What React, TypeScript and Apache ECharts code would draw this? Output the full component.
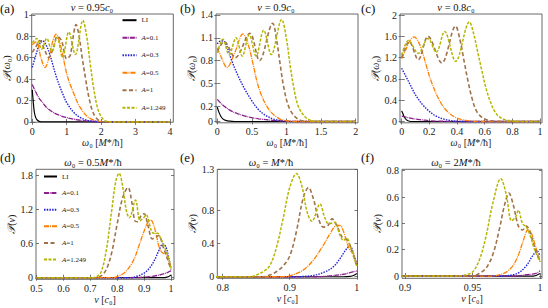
import React, { useEffect, useRef } from 'react';
import * as echarts from 'echarts';

const SERIF = "'Liberation Serif', 'DejaVu Serif', serif";

const NAMES = ['LI', 'A=0.1', 'A=0.3', 'A=0.5', 'A=1', 'A=1.249'];

// (a) v = 0.95 c0 ; x = omega0
const aLI = [[0,0.3],[0.03,0.18],[0.06,0.09],[0.1,0.04],[0.15,0.015],[0.2,0.005],[0.3,0],[4,0]];
const aA01 = [[0,0.35],[0.1,0.28],[0.2,0.22],[0.3,0.18],[0.4,0.14],[0.6,0.09],[0.8,0.06],[1,0.04],[1.3,0.02],[1.6,0.008],[2,0.002],[2.5,0],[4,0]];
const aA03 = [[0,0.51],[0.1,0.62],[0.2,0.72],[0.3,0.76],[0.4,0.72],[0.5,0.64],[0.6,0.53],[0.7,0.42],[0.8,0.33],[0.9,0.25],[1,0.18],[1.2,0.09],[1.4,0.04],[1.6,0.015],[1.8,0.005],[2,0],[4,0]];
const aA05 = [[0,0.72],[0.12,0.75],[0.25,0.6],[0.37,0.51],[0.5,0.62],[0.6,0.76],[0.69,0.82],[0.8,0.74],[0.9,0.6],[1,0.45],[1.1,0.35],[1.2,0.27],[1.3,0.19],[1.4,0.13],[1.6,0.05],[1.8,0.015],[2,0.004],[2.2,0],[4,0]];
const aA1 = [[0,0.65],[0.1,0.7],[0.22,0.76],[0.35,0.68],[0.48,0.6],[0.6,0.68],[0.73,0.8],[0.85,0.76],[1,0.59],[1.1,0.62],[1.18,0.78],[1.27,0.91],[1.35,0.82],[1.45,0.6],[1.55,0.4],[1.65,0.22],[1.75,0.1],[1.85,0.04],[1.95,0.01],[2.1,0],[4,0]];
const aA1249 = [[0,0.74],[0.13,0.78],[0.27,0.68],[0.42,0.78],[0.57,0.66],[0.72,0.79],[0.88,0.6],[1.06,0.84],[1.25,0.63],[1.47,0.95],[1.58,0.8],[1.68,0.55],[1.78,0.32],[1.88,0.15],[1.98,0.06],[2.1,0.015],[2.25,0],[4,0]];

// (b) v = 0.9 c0
const bLI = [[0,0.19],[0.02,0.13],[0.05,0.07],[0.08,0.035],[0.12,0.015],[0.18,0.004],[0.25,0],[2,0]];
const bA01 = [[0,0.29],[0.05,0.24],[0.1,0.2],[0.2,0.14],[0.3,0.1],[0.45,0.06],[0.6,0.035],[0.8,0.015],[1,0.005],[1.2,0],[2,0]];
const bA03 = [[0,1.02],[0.05,1.06],[0.1,1.05],[0.15,0.96],[0.2,0.82],[0.3,0.6],[0.4,0.42],[0.5,0.27],[0.6,0.15],[0.7,0.08],[0.8,0.035],[0.9,0.015],[1,0.005],[1.1,0],[2,0]];
const bA05 = [[0,0.97],[0.05,0.86],[0.14,0.71],[0.25,0.9],[0.37,1.15],[0.45,1.0],[0.52,0.74],[0.59,0.47],[0.69,0.24],[0.79,0.11],[0.9,0.035],[1,0.01],[1.1,0],[2,0]];
const bA1 = [[0,0.92],[0.1,1.05],[0.26,0.84],[0.47,1.16],[0.61,0.8],[0.8,1.29],[0.86,1.05],[0.91,0.74],[0.96,0.45],[1.03,0.2],[1.12,0.065],[1.22,0.01],[1.3,0],[2,0]];
const bA1249 = [[0,0.9],[0.08,1.08],[0.17,0.88],[0.27,1.1],[0.36,0.86],[0.46,1.14],[0.56,0.86],[0.67,1.2],[0.78,0.88],[0.93,1.34],[1,1.08],[1.05,0.75],[1.1,0.47],[1.17,0.2],[1.27,0.06],[1.36,0.01],[1.45,0],[2,0]];

// (c) v = 0.8 c0
const cLI = [[0,0.2],[0.01,0.14],[0.02,0.08],[0.035,0.03],[0.05,0.01],[0.08,0],[1,0]];
const cA01 = [[0,0.1],[0.05,0.07],[0.1,0.045],[0.15,0.03],[0.2,0.015],[0.3,0.005],[0.4,0],[1,0]];
const cA03 = [[0,1],[0.03,0.85],[0.06,0.7],[0.1,0.5],[0.15,0.32],[0.2,0.19],[0.25,0.1],[0.3,0.05],[0.35,0.02],[0.4,0.005],[0.5,0],[1,0]];
const cA05 = [[0,1.18],[0.03,1.35],[0.06,1.52],[0.09,1.59],[0.12,1.5],[0.15,1.3],[0.18,1.03],[0.21,0.78],[0.25,0.52],[0.29,0.32],[0.33,0.19],[0.38,0.09],[0.43,0.04],[0.5,0.01],[0.6,0],[1,0]];
const cA1 = [[0,1.2],[0.055,1.5],[0.12,1.16],[0.19,1.6],[0.29,1.1],[0.39,1.79],[0.42,1.55],[0.45,1.15],[0.48,0.75],[0.51,0.42],[0.54,0.2],[0.58,0.08],[0.63,0.02],[0.7,0],[1,0]];
const cA1249 = [[0,1.25],[0.05,1.52],[0.12,1.28],[0.19,1.56],[0.25,1.3],[0.31,1.69],[0.39,1.13],[0.49,1.87],[0.52,1.65],[0.55,1.3],[0.58,0.95],[0.61,0.62],[0.64,0.38],[0.67,0.2],[0.7,0.1],[0.74,0.04],[0.8,0.01],[0.85,0],[1,0]];

// (d) omega0 = 0.5 M*/hbar ; x = v
const dLI = [[0.49,0],[0.97,0],[0.985,0.01],[0.995,0.03],[1,0.05]];
const dA01 = [[0.49,0],[0.85,0],[0.9,0.01],[0.95,0.04],[0.98,0.08],[0.995,0.11],[1,0.12]];
const dA03 = [[0.49,0],[0.85,0],[0.87,0.02],[0.9,0.08],[0.92,0.17],[0.94,0.32],[0.955,0.48],[0.97,0.59],[0.98,0.55],[0.99,0.38],[1,0.15]];
const dA05 = [[0.49,0],[0.78,0],[0.8,0.02],[0.83,0.1],[0.86,0.3],[0.88,0.55],[0.9,0.82],[0.915,0.98],[0.925,1.01],[0.935,0.93],[0.945,0.75],[0.955,0.55],[0.965,0.45],[0.975,0.42],[0.985,0.4],[0.993,0.3],[1,0.15]];
const dA1 = [[0.49,0],[0.72,0],[0.74,0.03],[0.76,0.15],[0.78,0.45],[0.8,0.95],[0.82,1.4],[0.84,1.58],[0.855,1.3],[0.865,1.0],[0.875,0.98],[0.89,1.1],[0.9,1.12],[0.915,0.9],[0.93,0.68],[0.945,0.72],[0.955,0.74],[0.97,0.55],[0.985,0.35],[1,0.14]];
const dA1249 = [[0.49,0],[0.7,0],[0.72,0.01],[0.74,0.1],[0.76,0.5],[0.78,1.2],[0.795,1.7],[0.807,1.83],[0.82,1.6],[0.835,1.15],[0.845,1.05],[0.868,1.36],[0.885,1.0],[0.9,1.06],[0.908,1.1],[0.925,0.85],[0.935,0.78],[0.95,0.78],[0.96,0.7],[0.975,0.55],[0.99,0.35],[1,0.14]];

// (e) omega0 = M*/hbar
const eLI = [[0.79,0],[0.98,0],[0.99,0.005],[0.995,0.015],[1,0.04]];
const eA01 = [[0.79,0],[0.94,0],[0.96,0.01],[0.98,0.03],[0.99,0.05],[1,0.07]];
const eA03 = [[0.79,0],[0.9,0],[0.93,0.01],[0.95,0.05],[0.965,0.12],[0.975,0.22],[0.985,0.34],[0.99,0.37],[0.995,0.28],[1,0.15]];
const eA05 = [[0.79,0],[0.89,0],[0.9,0.01],[0.92,0.08],[0.935,0.2],[0.95,0.38],[0.96,0.52],[0.97,0.62],[0.975,0.62],[0.98,0.55],[0.985,0.42],[0.99,0.32],[0.995,0.28],[1,0.13]];
const eA1 = [[0.79,0],[0.86,0],[0.87,0.02],[0.88,0.06],[0.89,0.13],[0.9,0.25],[0.91,0.55],[0.92,0.95],[0.928,1.08],[0.935,0.95],[0.943,0.7],[0.95,0.6],[0.957,0.62],[0.963,0.7],[0.97,0.62],[0.978,0.48],[0.985,0.45],[0.99,0.38],[0.995,0.25],[1,0.13]];
const eA1249 = [[0.79,0],[0.84,0],[0.85,0.02],[0.86,0.06],[0.87,0.13],[0.88,0.35],[0.89,0.7],[0.9,1.08],[0.91,1.25],[0.918,1.1],[0.926,0.78],[0.933,0.67],[0.945,0.88],[0.952,0.72],[0.958,0.64],[0.967,0.66],[0.975,0.5],[0.98,0.44],[0.985,0.47],[0.99,0.37],[0.995,0.25],[1,0.13]];

// (f) omega0 = 2 M*/hbar
const fLI = [[0.89,0],[0.995,0],[1,0.02]];
const fA01 = [[0.89,0],[0.98,0],[0.99,0.01],[0.997,0.02],[1,0.04]];
const fA03 = [[0.89,0],[0.97,0],[0.98,0.01],[0.985,0.03],[0.99,0.08],[0.995,0.16],[0.998,0.19],[1,0.15]];
const fA05 = [[0.89,0],[0.965,0],[0.97,0.01],[0.975,0.03],[0.98,0.08],[0.984,0.16],[0.988,0.28],[0.991,0.35],[0.993,0.34],[0.996,0.25],[1,0.11]];
const fA1 = [[0.89,0],[0.95,0],[0.955,0.02],[0.96,0.06],[0.965,0.16],[0.97,0.36],[0.974,0.55],[0.977,0.63],[0.98,0.55],[0.984,0.38],[0.987,0.35],[0.99,0.38],[0.993,0.32],[0.996,0.22],[1,0.11]];
const fA1249 = [[0.89,0],[0.94,0],[0.945,0.01],[0.95,0.03],[0.955,0.12],[0.96,0.3],[0.965,0.55],[0.971,0.74],[0.975,0.62],[0.979,0.42],[0.982,0.45],[0.984,0.5],[0.987,0.4],[0.99,0.37],[0.993,0.3],[0.996,0.2],[1,0.11]];

// tick values
const aXTicks = [0, 1, 2, 3, 4];
const aYTicks = [0, 0.2, 0.4, 0.6, 0.8, 1];
const bXTicks = [0, 0.5, 1, 1.5, 2];
const bYTicks = [0, 0.2, 0.5, 0.8, 1.1, 1.4];
const cXTicks = [0, 0.2, 0.4, 0.6, 0.8, 1];
const cYTicks = [0, 0.4, 0.8, 1.2, 1.6, 2];
const dXTicks = [0.5, 0.6, 0.7, 0.8, 0.9, 1];
const dYTicks = [0, 0.6, 1.2, 1.8];
const eXTicks = [0.8, 0.9, 1];
const eYTicks = [0, 0.4, 0.8, 1.3];
const fXTicks = [0.9, 0.95, 1];
const fYTicks = [0, 0.2, 0.4, 0.6, 0.8];

const PANEL_DATA = [
  [aLI, aA01, aA03, aA05, aA1, aA1249],
  [bLI, bA01, bA03, bA05, bA1, bA1249],
  [cLI, cA01, cA03, cA05, cA1, cA1249],
  [dLI, dA01, dA03, dA05, dA1, dA1249],
  [eLI, eA01, eA03, eA05, eA1, eA1249],
  [fLI, fA01, fA03, fA05, fA1, fA1249],
];
const X_TICKS = [aXTicks, bXTicks, cXTicks, dXTicks, eXTicks, fXTicks];
const Y_TICKS = [aYTicks, bYTicks, cYTicks, dYTicks, eYTicks, fYTicks];

// layout (pixels) and axis extents
const GRIDS = [
  { left: 31.7, top: 14, width: 141.6, height: 108.2 },
  { left: 216, top: 14, width: 142, height: 108.8 },
  { left: 400, top: 14, width: 142, height: 108.8 },
  { left: 36, top: 169.3, width: 138, height: 110 },
  { left: 217.3, top: 169.3, width: 140.2, height: 109 },
  { left: 402, top: 169.3, width: 140, height: 109 },
];
const X_RANGE = [[-0.017, 4.096], [-0.019, 2.033], [-0.012, 1.014], [0.498, 1.011], [0.792, 1.001], [0.8978, 1.0015]];
const Y_RANGE = [[-0.003, 1.009], [-0.017, 1.413], [-0.024, 2.019], [-0.028, 1.9], [-0.019, 1.3], [-0.017, 0.811]];

const COLORS = ['#000000', '#8b1f8b', '#2424d6', '#ff8000', '#a0724a', '#b5b500'];
const DASHES: any[] = ['solid', [5, 0.8, 0.8, 0.8], [1.5, 1.2], [5, 1, 1, 1], [4, 2.5], [3, 1.5]];
const WIDTHS = [1.2, 1.3, 1.4, 1.3, 1.6, 1.5];

const fmt = (v: number) => String(Math.round(v * 1000) / 1000);

const RICH = {
  i: { fontStyle: 'italic', fontFamily: SERIF, fontSize: 10 },
  p: { fontStyle: 'italic', fontFamily: SERIF, fontSize: 11 },
};

export default function App() {
  const ref = useRef<HTMLDivElement>(null);
  useEffect(() => {
    if (!ref.current) return;
    const chart = echarts.init(ref.current, undefined, { renderer: 'svg' });
    const grid = GRIDS.map((g) => ({ ...g, show: true, borderColor: '#6a6a6a', borderWidth: 1, containLabel: false }));
    const tickStyle = { color: '#555', width: 0.8 };
    const xAxis: any[] = GRIDS.map((_, p) => ({
      type: 'value', gridIndex: p, min: X_RANGE[p][0], max: X_RANGE[p][1],
      axisLine: { show: false }, splitLine: { show: false },
      axisTick: { inside: true, length: 3, lineStyle: tickStyle, customValues: X_TICKS[p] },
      axisLabel: { customValues: X_TICKS[p], formatter: fmt, fontFamily: SERIF, fontSize: 10, color: '#222', margin: 4 },
      name: p < 3 ? '{i|ω}₀ [{i|M}*/ħ]' : '{i|v} [{i|c}₀]',
      nameLocation: 'middle', nameGap: 12,
      nameTextStyle: { fontFamily: SERIF, fontSize: 10, color: '#222', rich: RICH },
    }));
    const yAxis: any[] = GRIDS.map((_, p) => ({
      type: 'value', gridIndex: p, min: Y_RANGE[p][0], max: Y_RANGE[p][1],
      axisLine: { show: false }, splitLine: { show: false },
      axisTick: { inside: true, length: 3, lineStyle: tickStyle, customValues: Y_TICKS[p] },
      axisLabel: { customValues: Y_TICKS[p], formatter: fmt, fontFamily: SERIF, fontSize: 10, color: '#222', margin: 3 },
      name: p < 3 ? '{p|𝒫}({i|ω}₀)' : '{p|𝒫}({i|v})',
      nameLocation: 'middle', nameGap: 17, nameRotate: 90,
      nameTextStyle: { fontFamily: SERIF, fontSize: 10, color: '#222', rich: RICH },
    }));
    // mirrored frame ticks on top and right edges
    GRIDS.forEach((_, p) => {
      xAxis.push({
        type: 'value', gridIndex: p, position: 'top', min: X_RANGE[p][0], max: X_RANGE[p][1],
        axisLine: { show: false }, splitLine: { show: false }, axisLabel: { show: false },
        axisTick: { inside: true, length: 3, lineStyle: tickStyle, customValues: X_TICKS[p] },
      });
      yAxis.push({
        type: 'value', gridIndex: p, position: 'right', min: Y_RANGE[p][0], max: Y_RANGE[p][1],
        axisLine: { show: false }, splitLine: { show: false }, axisLabel: { show: false },
        axisTick: { inside: true, length: 3, lineStyle: tickStyle, customValues: Y_TICKS[p] },
      });
    });
    const series: any[] = [];
    PANEL_DATA.forEach((curves, p) => {
      curves.forEach((data, k) => {
        series.push({
          type: 'line', name: NAMES[k], xAxisIndex: p, yAxisIndex: p, data,
          symbol: 'none', showSymbol: false, smooth: 0.35, z: 2 + k,
          lineStyle: { color: COLORS[k], width: WIDTHS[k], type: DASHES[k] },
          itemStyle: { color: COLORS[k] },
        });
      });
    });
    const legendCommon = {
      orient: 'vertical', data: NAMES, selectedMode: false, itemWidth: 14, itemHeight: 8,
      itemGap: 10.5, padding: 0,
      itemStyle: { color: 'rgba(0,0,0,0)', borderWidth: 0, opacity: 0 },
      formatter: (n: string) => (n === 'LI' ? 'LI' : '{i|A}' + n.slice(1)),
      textStyle: { fontFamily: SERIF, fontSize: 7, color: '#222', rich: { i: { fontStyle: 'italic', fontFamily: SERIF, fontSize: 7 } } },
    };
    const legend = [
      { ...legendCommon, left: 121.5, top: 16.7, itemGap: 10.5 },
      { ...legendCommon, left: 43, top: 173, itemGap: 9.6, itemWidth: 13 },
    ];
    const letter = (t: string, x: number, y: number) => ({
      type: 'text', x, y, style: { text: t, fontFamily: SERIF, fontSize: 13, fill: '#111', align: 'left', verticalAlign: 'middle' },
    });
    const head = (t: string, x: number, y: number) => ({
      type: 'text', x, y,
      style: { text: t, fontFamily: SERIF, fontSize: 10.5, fill: '#111', align: 'center', verticalAlign: 'middle',
        rich: { i: { fontStyle: 'italic', fontFamily: SERIF, fontSize: 10.5 } } },
    });
    const graphic = [
      letter('(a)', 0, 8), letter('(b)', 180, 8), letter('(c)', 361, 8),
      letter('(d)', 0, 157), letter('(e)', 180, 157), letter('(f)', 361, 157),
      head('{i|v} = 0.95{i|c}₀', 92, 7), head('{i|v} = 0.9{i|c}₀', 276, 7), head('{i|v} = 0.8{i|c}₀', 456, 7),
      head('{i|ω}₀ = 0.5{i|M}*/ħ', 93, 162), head('{i|ω}₀ = {i|M}*/ħ', 271, 162), head('{i|ω}₀ = 2{i|M}*/ħ', 456, 162),
    ];
    chart.setOption({ animation: false, backgroundColor: '#fff', grid, xAxis, yAxis, series, legend, graphic });
    return () => chart.dispose();
  }, []);
  return <div ref={ref} style={{ position: 'fixed', left: 0, top: 0, width: 548, height: 308 }} />;
}
